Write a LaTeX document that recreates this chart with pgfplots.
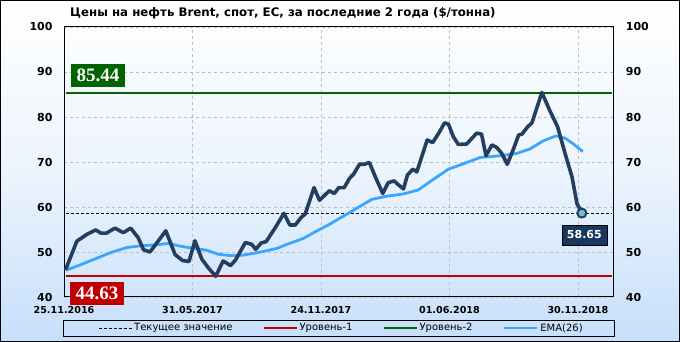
\documentclass[border=0pt]{standalone}
\usepackage{pgfplots}
\pgfplotsset{compat=1.18}
\usepackage{pgfplotstable}
\usepackage{fontspec}
\setmainfont{DejaVu Sans}
\newfontfamily\serifbox{Liberation Serif}
\definecolor{price}{RGB}{36,62,96}
\definecolor{ema}{RGB}{62,166,250}
\definecolor{lvltwo}{RGB}{0,100,0}
\definecolor{lvlone}{RGB}{192,0,0}
\definecolor{mk}{RGB}{110,190,220}
\definecolor{boxnavy}{RGB}{23,55,94}
\definecolor{bgblue}{RGB}{198,223,250}

\pgfplotstableread{
x y
0.3 46.0
2.6 52.4
4.6 53.9
6.4 54.9
7.5 54.2
8.6 54.2
10.3 55.3
12.0 54.3
13.5 55.3
15.0 53.2
16.1 50.5
17.4 50.0
20.6 54.7
22.5 49.4
24.0 48.1
25.3 47.9
26.5 52.5
27.9 48.4
29.2 46.5
30.7 44.6
32.2 48.0
33.7 47.0
34.7 48.2
36.7 52.1
38.0 51.7
38.8 50.6
39.9 52.0
40.9 52.3
42.7 55.3
44.5 58.6
45.7 56.0
46.8 56.0
48.0 57.7
48.8 58.4
50.6 64.3
51.7 61.5
53.7 63.6
54.7 63.0
55.6 64.3
56.7 64.3
57.8 66.4
58.6 67.3
59.8 69.5
60.8 69.5
61.8 69.9
63.0 66.7
64.5 63.0
65.6 65.4
66.8 65.8
67.7 64.9
68.7 64.0
69.5 67.1
70.6 68.4
71.4 67.8
73.5 74.9
74.6 74.3
76.0 76.7
77.0 78.7
77.8 78.4
78.8 75.6
79.8 73.9
81.5 74.0
83.5 76.4
84.5 76.2
85.4 71.4
86.6 73.8
87.6 73.2
88.6 71.9
89.7 69.5
91.0 73.0
92.0 76.0
92.7 76.2
93.8 77.8
94.7 78.7
96.7 85.44
98.4 81.2
99.9 77.8
101.4 71.9
102.8 66.7
103.8 60.8
104.8 58.65
}\price

\pgfplotstableread{
x y
0.5 46.0
3.2 47.1
6.6 48.6
9.3 49.8
12.7 51.0
15.7 51.4
18.8 51.6
21.1 51.9
23.5 51.3
26.2 50.8
28.9 50.4
31.2 49.5
33.6 49.2
36.3 49.3
40.3 50.1
43.1 50.8
45.1 51.7
48.4 53.0
51.2 54.7
53.8 56.2
58.6 59.3
62.3 61.7
65.3 62.4
68.7 62.9
71.7 63.8
75.1 66.4
77.8 68.4
80.8 69.6
84.2 71.0
88.3 71.4
91.6 71.9
94.3 72.9
97.0 74.7
99.6 75.8
101.4 75.3
103.1 74.0
105.0 72.3
}\ema

\begin{document}
\begin{tikzpicture}
\useasboundingbox (0,0) rectangle (680pt,342pt);
\shade[top color=white, bottom color=bgblue, middle color={rgb,255:red,236;green,244;blue,253}] (0,0) rectangle (680pt,342pt);
\draw[black, line width=1.2pt] (0.6pt,0.6pt) rectangle (679.4pt,341.4pt);
\node[anchor=west, font=\bfseries\fontsize{11.8}{14}\selectfont, inner sep=0pt] at (70pt,329pt) {Цены на нефть Brent, спот, ЕС, за последние 2 года (\$/тонна)};
\draw[black, line width=0.8pt] (63pt,6pt) rectangle (614pt,22pt);

\begin{axis}[
  at={(64pt,45pt)}, anchor=south west,
  scale only axis, width=549pt, height=270pt,
  xmin=0, xmax=111.1, ymin=40, ymax=100,
  xtick={0,26,52,78,104},
  xticklabels={25.11.2016,31.05.2017,24.11.2017,01.06.2018,30.11.2018},
  ytick={40,50,...,100},
  major tick length=0pt,
  grid=major,
  grid style={dash pattern=on 3pt off 3pt, color={rgb,255:red,190;green,190;blue,190}, line width=0.7pt},
  axis line style={line width=1pt},
  /pgf/number format/assume math mode=true,
  yticklabel style={font=\bfseries\fontsize{11}{13}\selectfont, xshift=-8pt},
  xticklabel style={font=\bfseries\fontsize{9.6}{11}\selectfont, yshift=-6.2pt},
  clip=false,
  legend columns=4,
  legend style={draw=none, fill=none, at={(0.5055,-0.1148)}, anchor=center,
    font=\fontsize{10}{12}\selectfont,
    /tikz/every even column/.append style={column sep=28pt}},
  legend image code/.code={\draw[#1] (0pt,0pt) -- (33pt,0pt);},
]
\addplot[black, line width=0.9pt, dash pattern=on 3pt off 2pt] coordinates {(0.4,58.65) (110.8,58.65)};
\addlegendentry{Текущее значение}
\addplot[lvlone, line width=2pt] coordinates {(0.4,44.63) (110.8,44.63)};
\addlegendentry{Уровень-1}
\addplot[lvltwo, line width=2pt] coordinates {(0.4,85.44) (110.8,85.44)};
\addlegendentry{Уровень-2}
\addplot[ema, line width=2.8pt, line join=round] table[x=x,y=y] {\ema};
\addlegendentry{EMA(26)}
\addplot[price, line width=3.6pt, line join=round, forget plot] table[x=x,y=y] {\price};
\addplot[only marks, mark=*, mark size=4.5pt, mark options={fill=mk, draw=price, line width=2pt}, forget plot] coordinates {(104.8,58.65)};
\node[fill=lvltwo, text=white, font=\serifbox\bfseries\fontsize{19}{21}\selectfont, minimum width=54pt, minimum height=23pt, inner sep=0pt] at (axis cs:6.9,89.2) {85.44};
\node[fill=lvlone, text=white, font=\serifbox\bfseries\fontsize{19}{21}\selectfont, minimum width=54pt, minimum height=23pt, inner sep=0pt] at (axis cs:6.7,40.8) {44.63};
\node[fill=boxnavy, draw=black, line width=0.6pt, text=white, font=\bfseries\fontsize{11}{13}\selectfont, minimum width=45pt, minimum height=20pt, inner sep=0pt] at (axis cs:105.3,53.8) {58.65};
\end{axis}

\begin{axis}[
  at={(64pt,45pt)}, anchor=south west,
  scale only axis, width=549pt, height=270pt,
  xmin=0, xmax=111.1, ymin=40, ymax=100,
  axis x line=none,
  axis y line*=right,
  y axis line style={draw=none},
  ytick={40,50,...,100},
  major tick length=0pt,
  /pgf/number format/assume math mode=true,
  yticklabel style={font=\bfseries\fontsize{11}{13}\selectfont, xshift=9.3pt},
]
\end{axis}
\end{tikzpicture}
\end{document}
